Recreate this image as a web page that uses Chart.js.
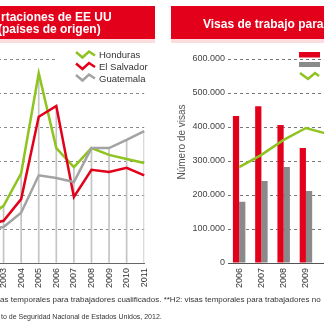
<!DOCTYPE html>
<html lang="es">
<head>
<meta charset="utf-8">
<title>Deportaciones y visas de trabajo</title>
<script src="https://cdn.jsdelivr.net/npm/chart.js@4.4.1/dist/chart.umd.min.js"></script>
<style>
  html, body { margin: 0; padding: 0; }
  body { width: 324px; height: 324px; overflow: hidden; position: relative; background: #fff;
         font-family: "Liberation Sans", Arial, sans-serif; }
  canvas { position: absolute; }
  .caja { position: absolute; top: 6px; height: 33px; background: #e2001a; border-bottom: 4px solid #fbdde0; }
  .titulo { position: absolute; color: #fff; font-weight: bold; font-size: 12px; line-height: 12px; white-space: nowrap; }
  .leyenda { position: absolute; left: 99px; font-size: 9.5px; line-height: 9.5px; color: #333; white-space: nowrap; }
  .nota { position: absolute; color: #333; white-space: nowrap; }
</style>
</head>
<body>
<canvas id="graficoDeport" width="200" height="303" style="left:-40px;top:0"></canvas>
<canvas id="graficoVisas" width="184" height="303" style="left:160px;top:0"></canvas>

<div class="caja" style="left:0;width:155px"></div>
<div class="titulo" style="left:1px;top:11px">rtaciones de EE UU</div>
<div class="titulo" style="left:-2px;top:23px">(países de origen)</div>
<div class="caja" style="left:171px;width:160px"></div>
<div class="titulo" style="left:203px;top:18px">Visas de trabajo para</div>

<!-- leyenda izquierda (tapa la linea de arriba) -->
<div style="position:absolute;left:56px;top:46px;width:91px;height:39px;background:#fff"></div>
<div class="leyenda" style="top:50px">Honduras</div>
<div class="leyenda" style="top:62px">El Salvador</div>
<div class="leyenda" style="top:73.5px">Guatemala</div>

<div style="position:absolute;left:181px;top:142px;transform:translate(-50%,-50%) rotate(-90deg);font-size:10px;color:#555;white-space:nowrap">Número de visas</div>

<svg width="324" height="324" style="position:absolute;left:0;top:0;pointer-events:none">
  <g fill="none" stroke-width="2.5">
    <polyline points="76,52 82.5,57.5 89,51.5 95,55.5" stroke="#8fc31f"/>
    <polyline points="76,63.5 82.5,69 89,63 95,67" stroke="#e2001a"/>
    <polyline points="76,75 82.5,80.5 89,74.5 95,78.5" stroke="#a3a3a3"/>
    <polyline points="300,73 308,79 315,73 319,76" stroke="#8fc31f"/>
  </g>
  <rect x="299" y="52" width="21" height="5.5" fill="#e2001a"/>
  <rect x="299" y="62" width="21" height="5" fill="#8a8a8a"/>
</svg>

<div class="nota" style="left:0;top:296px;font-size:8px;line-height:8px">as temporales para trabajadores cualificados. **H2: visas temporales para trabajadores no</div>
<div class="nota" style="left:1px;top:313px;font-size:7px;line-height:7px">to de Seguridad Nacional de Estados Unidos, 2012.</div>

<script>
// deportaciones (grafico izquierdo)
const anios = ['2002', '2003', '2004', '2005', '2006', '2007', '2008', '2009', '2010', '2011']
const honduras = [6600, 8400, 13200, 27900, 16900, 14100, 16900, 15900, 15300, 14700]
const elSalvador = [5600, 6200, 9400, 21500, 23100, 9700, 13700, 13400, 14000, 12900]
const guatemala = [4900, 5300, 7400, 12900, 12500, 11900, 16900, 16900, 18100, 19400]

// visas de trabajo (grafico derecho)
const aniosVisas = ['2006', '2007', '2008', '2009', '2010']
const visasH1B = [432000, 461000, 406000, 338000, null]
const visasH2 = [180000, 241000, 282000, 212000, null]
const visasLinea = [282000, 318000, 362000, 397000, 379000]
const ticksVisas = ['0', '100.000', '200.000', '300.000', '400.000', '500.000', '600.000']

const verde = '#8fc31f'
const rojo = '#e2001a'
const gris = '#a3a3a3'

// lineas verticales: desde el eje hasta el valor mas alto de cada año
const maximos = anios.map((a, i) => Math.max(honduras[i], elSalvador[i], guatemala[i]))

const linea = (label, data, color) => ({
    type: 'line',
    label: label,
    data: data,
    borderColor: color,
    borderWidth: 2.5,
    pointRadius: 0,
    tension: 0,
    order: 0
})

new Chart(document.getElementById('graficoDeport'), {
    type: 'line',
    data: {
        labels: anios,
        datasets: [
            linea('Guatemala', guatemala, gris),
            linea('El Salvador', elSalvador, rojo),
            linea('Honduras', honduras, verde),
            {
                type: 'bar',
                label: 'max',
                data: maximos,
                backgroundColor: '#c4c4c4',
                barThickness: 1,
                order: 5
            }
        ]
    },
    options: {
        responsive: false,
        animation: false,
        layout: { padding: { left: 26, right: 13, top: 59, bottom: 0 } },
        plugins: { legend: { display: false }, tooltip: { enabled: false } },
        scales: {
            x: {
                offset: false,
                grid: { display: false, drawTicks: false },
                border: { display: true, color: '#666', width: 1 },
                ticks: { color: '#333', font: { size: 9, family: 'Liberation Sans' }, minRotation: 90, maxRotation: 90, padding: 5, autoSkip: false },
                afterFit: (s) => { s.height = 40 }
            },
            y: {
                min: 0,
                max: 30000,
                ticks: { display: false, stepSize: 5000 },
                grid: { color: '#8a8a8a', drawTicks: false },
                border: { display: false, dash: [3, 3] },
                afterFit: (s) => { s.width = 0 }
            }
        }
    }
})

new Chart(document.getElementById('graficoVisas'), {
    type: 'bar',
    data: {
        labels: aniosVisas,
        datasets: [
            {
                label: 'H1B',
                data: visasH1B,
                backgroundColor: rojo,
                categoryPercentage: 0.56,
                barPercentage: 1,
                order: 2
            },
            {
                label: 'H2',
                data: visasH2,
                backgroundColor: '#8a8a8a',
                categoryPercentage: 0.56,
                barPercentage: 1,
                order: 2
            },
            linea('Total', visasLinea, verde)
        ]
    },
    options: {
        responsive: false,
        animation: false,
        layout: { padding: { left: 0, right: 0, top: 59, bottom: 0 } },
        plugins: { legend: { display: false }, tooltip: { enabled: false } },
        scales: {
            x: {
                grid: { display: false, drawTicks: false },
                border: { display: true, color: '#555', width: 1 },
                ticks: { color: '#333', font: { size: 9, family: 'Liberation Sans' }, minRotation: 90, maxRotation: 90, padding: 5, autoSkip: false },
                afterFit: (s) => { s.height = 40 }
            },
            y: {
                min: 0,
                max: 600000,
                ticks: {
                    stepSize: 100000,
                    color: '#444',
                    padding: 3,
                    font: { size: 9, family: 'Liberation Sans' },
                    callback: (v, i) => ticksVisas[i]
                },
                grid: { color: '#777', drawTicks: false },
                border: { display: false, dash: [3, 3] },
                afterFit: (s) => { s.width = 68 }
            }
        }
    }
})
</script>
</body>
</html>
